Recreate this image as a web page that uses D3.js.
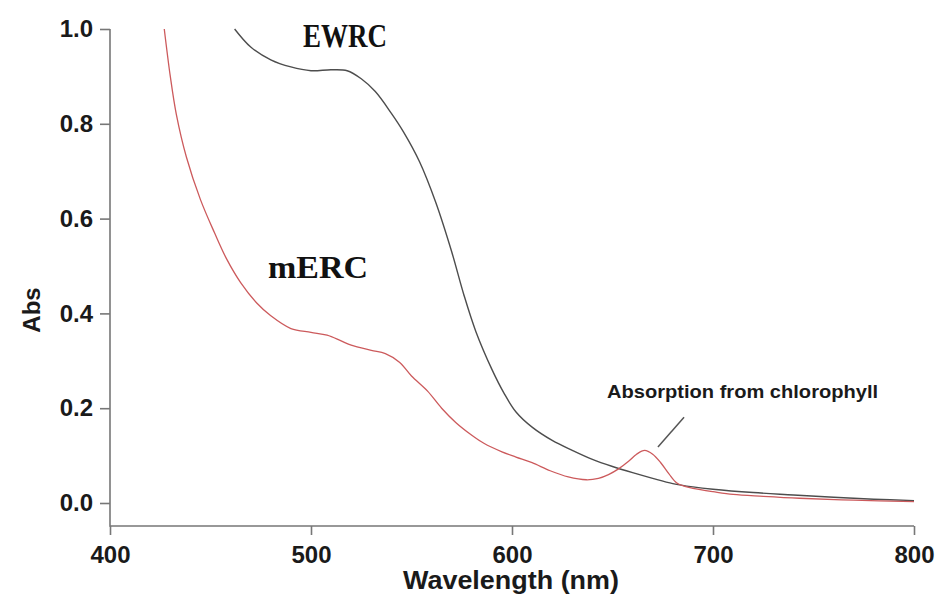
<!DOCTYPE html>
<html>
<head>
<meta charset="utf-8">
<script src="https://cdn.jsdelivr.net/npm/d3@7"></script>
<style>
  html, body { margin: 0; padding: 0; background: #fff; }
  svg { display: block; }
</style>
</head>
<body>
<svg id="chart" width="938" height="604"></svg>
<script>
// ---- data ----
const ewrcWavelength = [462, 470, 480, 490, 500, 510, 518, 525, 532, 540, 546, 554, 562, 570, 576, 582, 590, 596, 602, 610, 620, 630, 640, 650, 660, 670, 680, 690, 700, 720, 740, 760, 780, 800];
const ewrcAbs        = [1.00, 0.962, 0.935, 0.920, 0.912, 0.914, 0.912, 0.895, 0.868, 0.822, 0.783, 0.720, 0.635, 0.530, 0.440, 0.362, 0.282, 0.232, 0.192, 0.160, 0.132, 0.111, 0.092, 0.077, 0.064, 0.052, 0.041, 0.034, 0.029, 0.022, 0.017, 0.012, 0.008, 0.005];

const mercWavelength = [427, 430, 433, 438, 445, 452, 458, 465, 473, 480, 490, 500, 508, 515, 520, 530, 537, 544, 550, 558, 565, 572, 580, 586, 595, 602, 610, 619, 628, 637, 643, 648, 653, 658, 662, 666, 670, 674, 678, 682, 686, 690, 700, 710, 725, 743, 770, 800];
const mercAbs        = [1.00, 0.90, 0.82, 0.73, 0.64, 0.57, 0.515, 0.465, 0.422, 0.395, 0.368, 0.360, 0.354, 0.342, 0.333, 0.322, 0.315, 0.297, 0.268, 0.236, 0.200, 0.170, 0.143, 0.126, 0.108, 0.097, 0.085, 0.068, 0.055, 0.049, 0.052, 0.060, 0.072, 0.088, 0.103, 0.111, 0.103, 0.085, 0.062, 0.042, 0.035, 0.031, 0.024, 0.018, 0.014, 0.010, 0.006, 0.003];

const xTicks = [400, 500, 600, 700, 800];
const yTicks = [0.0, 0.2, 0.4, 0.6, 0.8, 1.0];

const seriesNames = ["EWRC", "mERC"];
const annotationText = "Absorption from chlorophyll";
const annotationPointer = [[672.6, 0.118], [685.6, 0.181]];
const labelAnchors = { EWRC: [496, 0.963], mERC: [478.6, 0.475], note: [647.3, 0.2215] };

// ---- chart ----
const svg = d3.select("#chart");
const x = d3.scaleLinear().domain([400, 800]).range([110, 914]);
const y = d3.scaleLinear().domain([0, 1]).range([503, 29]);
const axisY = 526;
const axisColor = "#777";
const tickFont = "'Liberation Sans', Arial, Helvetica, sans-serif";

// frame
svg.append("path")
  .attr("d", `M${x(400)},${y(1)}V${axisY}H${x(800)}`)
  .attr("fill", "none").attr("stroke", axisColor).attr("stroke-width", 1.6);

// y axis
const gy = svg.append("g").attr("transform", `translate(${x(400)},0)`)
  .call(d3.axisLeft(y).tickValues(yTicks).tickFormat(d3.format(".1f")).tickSize(10).tickPadding(7));
gy.select(".domain").remove();
gy.selectAll(".tick line").attr("stroke", axisColor).attr("stroke-width", 1.6);
gy.selectAll(".tick text").attr("font-family", tickFont).attr("font-weight", "bold")
  .attr("font-size", 24).attr("fill", "#1a1a1a");

// x axis
const gx = svg.append("g").attr("transform", `translate(0,${axisY})`)
  .call(d3.axisBottom(x).tickValues(xTicks).tickFormat(d3.format("d")).tickSize(9).tickPadding(11));
gx.select(".domain").remove();
gx.selectAll(".tick line").attr("stroke", axisColor).attr("stroke-width", 1.6);
gx.selectAll(".tick text").attr("font-family", tickFont).attr("font-weight", "bold")
  .attr("font-size", 24).attr("fill", "#1a1a1a");

// axis titles
svg.append("text").text("Wavelength (nm)")
  .attr("x", 511).attr("y", 589).attr("text-anchor", "middle")
  .attr("font-family", tickFont).attr("font-weight", "bold").attr("font-size", 25)
  .attr("textLength", 216).attr("lengthAdjust", "spacingAndGlyphs").attr("fill", "#1a1a1a");
svg.append("text").text("Abs")
  .attr("transform", "translate(40,310) rotate(-90)").attr("text-anchor", "middle")
  .attr("font-family", tickFont).attr("font-weight", "bold").attr("font-size", 24).attr("fill", "#1a1a1a");

// lines
const line = d3.line().x(d => x(d[0])).y(d => y(d[1])).curve(d3.curveCatmullRom.alpha(0.5));
const ewrc = ewrcWavelength.map((w, i) => [w, ewrcAbs[i]]);
const merc = mercWavelength.map((w, i) => [w, mercAbs[i]]);

svg.append("path").datum(ewrc).attr("d", line)
  .attr("fill", "none").attr("stroke", "#4d4d4d").attr("stroke-width", 1.4);
svg.append("path").datum(merc).attr("d", line)
  .attr("fill", "none").attr("stroke", "#cc5a5c").attr("stroke-width", 1.3);

// series labels
const serif = "'Liberation Serif', 'Times New Roman', Times, serif";
svg.append("text").text(seriesNames[0])
  .attr("x", x(labelAnchors.EWRC[0])).attr("y", y(labelAnchors.EWRC[1]))
  .attr("font-family", serif).attr("font-weight", "bold").attr("font-size", 33)
  .attr("textLength", 84).attr("lengthAdjust", "spacingAndGlyphs").attr("fill", "#111");
svg.append("text").text(seriesNames[1])
  .attr("x", x(labelAnchors.mERC[0])).attr("y", y(labelAnchors.mERC[1]))
  .attr("font-family", serif).attr("font-weight", "bold").attr("font-size", 31)
  .attr("textLength", 100).attr("lengthAdjust", "spacingAndGlyphs").attr("fill", "#111");

// annotation
svg.append("text").text(annotationText)
  .attr("x", x(labelAnchors.note[0])).attr("y", y(labelAnchors.note[1]))
  .attr("font-family", tickFont).attr("font-weight", "bold").attr("font-size", 19)
  .attr("textLength", 271).attr("lengthAdjust", "spacingAndGlyphs").attr("fill", "#1a1a1a");
svg.append("line")
  .attr("x1", x(annotationPointer[0][0])).attr("y1", y(annotationPointer[0][1]))
  .attr("x2", x(annotationPointer[1][0])).attr("y2", y(annotationPointer[1][1]))
  .attr("stroke", "#555").attr("stroke-width", 1.5);
</script>
</body>
</html>
